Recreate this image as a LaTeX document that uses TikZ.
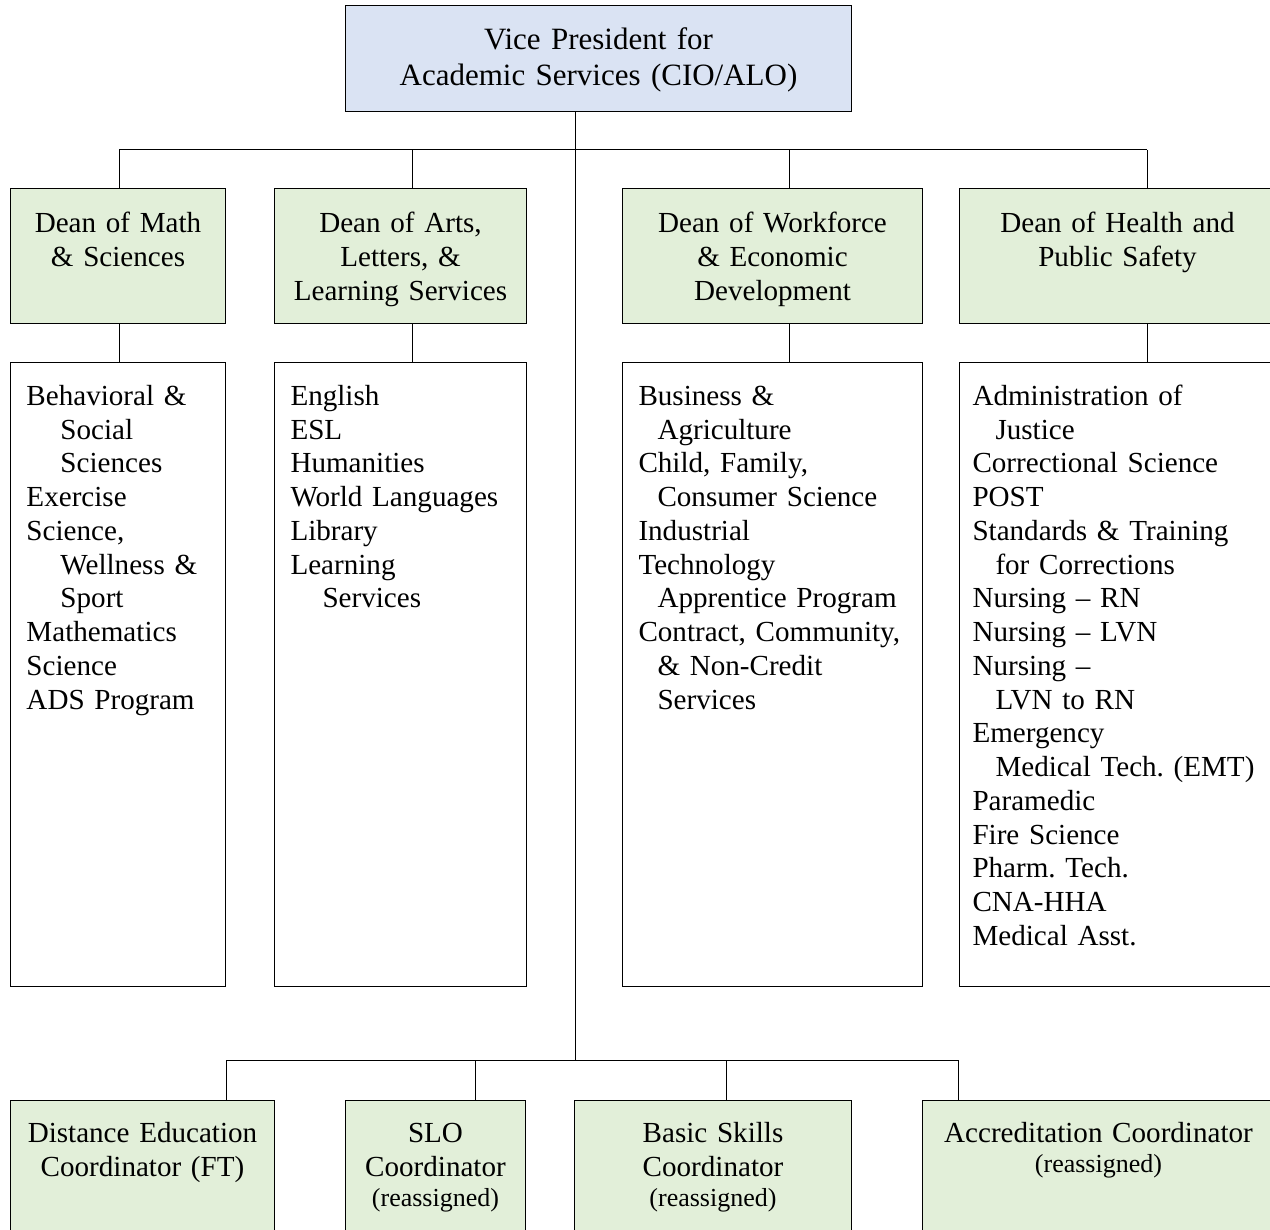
\documentclass[tikz,border=0pt]{standalone}
\usepackage{fontspec}
\setmainfont{Liberation Serif}
\usepackage{tikz}
\definecolor{vpblue}{HTML}{DAE3F3}
\definecolor{deangreen}{HTML}{E2EFD9}
\hfuzz=200pt
\hbadness=10000
\frenchspacing
\newcommand{\reasg}{{\fontsize{26}{30}\selectfont (reassigned)}}

\begin{document}
\begin{tikzpicture}[x=1pt, y=-1pt, line width=1pt,
    vpbox/.style={draw, fill=vpblue, anchor=north west, inner sep=0pt, align=center,
        text width=506pt, text height=44pt, text depth=62pt, font=\fontsize{31}{36}\selectfont},
    deanbox/.style={draw, fill=deangreen, anchor=north west, inner sep=0pt, align=center,
        text height=44pt, text depth=91pt, font=\fontsize{29.1}{34}\selectfont},
    listbox/.style={draw, fill=white, anchor=north west, inner ysep=0pt, inner xsep=16pt, align=left,
        text height=43pt, text depth=581pt, font=\fontsize{29.1}{33.75}\selectfont},
    coordbox/.style={draw, fill=deangreen, anchor=north west, inner sep=0pt, align=center,
        text height=42pt, text depth=140pt, font=\fontsize{29.1}{34}\selectfont}]
        \useasboundingbox (0,0) rectangle (1270,1230);

        \coordinate (vp) at (345,5);
        \coordinate (dean_m) at (10,188);
        \coordinate (dean_a) at (274,188);
        \coordinate (dean_w) at (622,188);
        \coordinate (dean_h) at (959,188);
        \coordinate (list_m) at (10,362);
        \coordinate (list_a) at (274,362);
        \coordinate (list_w) at (622,362);
        \coordinate (list_h) at (959,362);
        \coordinate (co_de) at (10,1100);
        \coordinate (co_slo) at (345,1100);
        \coordinate (co_bs) at (574,1100);
        \coordinate (co_acc) at (922,1100);

        \coordinate (top_bus) at (575,150);
        \coordinate (low_bus) at (575,1060);
        \coordinate (tap_m) at (119,150);
        \coordinate (tap_a) at (412,150);
        \coordinate (tap_w) at (789,150);
        \coordinate (tap_h) at (1147,150);
        \coordinate (tap_de) at (226,1060);
        \coordinate (tap_slo) at (475,1060);
        \coordinate (tap_bs) at (726,1060);
        \coordinate (tap_acc) at (958,1060);

        \node[vpbox] (VP) at (vp) {Vice President for\\Academic Services (CIO/ALO)};

        \node[deanbox, text width=215pt] (Dean_m) at (dean_m) {Dean of Math\\\& Sciences};
        \node[deanbox, text width=252pt] (Dean_a) at (dean_a) {Dean of Arts,\\Letters, \&\\Learning Services};
        \node[deanbox, text width=300pt] (Dean_w) at (dean_w) {Dean of Workforce\\\& Economic\\Development};
        \node[deanbox, text width=316pt] (Dean_h) at (dean_h) {Dean of Health and\\Public Safety};

        \node[listbox, text width=183pt] (List_m) at (list_m) {Behavioral \&\\\hspace*{34pt}Social\\\hspace*{34pt}Sciences\\Exercise\\Science,\\\hspace*{34pt}Wellness \&\\\hspace*{34pt}Sport\\Mathematics\\Science\\ADS Program};
        \node[listbox, text width=220pt] (List_a) at (list_a) {English\\ESL\\Humanities\\World Languages\\Library\\Learning\\\hspace*{32pt}Services};
        \node[listbox, text width=268pt] (List_w) at (list_w) {Business \&\\\hspace*{19pt}Agriculture\\Child, Family,\\\hspace*{19pt}Consumer Science\\Industrial\\Technology\\\hspace*{19pt}Apprentice Program\\Contract, Community,\\\hspace*{19pt}\& Non-Credit\\\hspace*{19pt}Services};
        \node[listbox, inner xsep=13pt, text width=290pt] (List_h) at (list_h) {Administration of\\\hspace*{23pt}Justice\\Correctional Science\\POST\\Standards \& Training\\\hspace*{23pt}for Corrections\\Nursing -- RN\\Nursing -- LVN\\Nursing --\\\hspace*{23pt}LVN to RN\\Emergency\\\hspace*{23pt}Medical Tech. (EMT)\\Paramedic\\Fire Science\\Pharm. Tech.\\CNA-HHA\\Medical Asst.};

        \node[coordbox, text width=264pt] (Co_de) at (co_de) {Distance Education\\Coordinator (FT)};
        \node[coordbox, text width=180pt] (Co_slo) at (co_slo) {SLO\\Coordinator\\[-4pt]\reasg};
        \node[coordbox, text width=277pt] (Co_bs) at (co_bs) {Basic Skills\\Coordinator\\[-4pt]\reasg};
        \node[coordbox, text width=352pt] (Co_acc) at (co_acc) {Accreditation Coordinator\\[-4pt]\reasg};

        \path[draw] (VP.south -| top_bus) -- (low_bus);
        \path[draw] (tap_m) -- (tap_h);
        \path[draw] (tap_m) -- (tap_m |- Dean_m.north);
        \path[draw] (tap_a) -- (tap_a |- Dean_a.north);
        \path[draw] (tap_w) -- (tap_w |- Dean_w.north);
        \path[draw] (tap_h) -- (tap_h |- Dean_h.north);
        \path[draw] (tap_m |- Dean_m.south) -- (tap_m |- List_m.north);
        \path[draw] (tap_a |- Dean_a.south) -- (tap_a |- List_a.north);
        \path[draw] (tap_w |- Dean_w.south) -- (tap_w |- List_w.north);
        \path[draw] (tap_h |- Dean_h.south) -- (tap_h |- List_h.north);
        \path[draw] (tap_de) -- (tap_acc);
        \path[draw] (tap_de) -- (tap_de |- Co_de.north);
        \path[draw] (tap_slo) -- (tap_slo |- Co_slo.north);
        \path[draw] (tap_bs) -- (tap_bs |- Co_bs.north);
        \path[draw] (tap_acc) -- (tap_acc |- Co_acc.north);
    \end{tikzpicture}
\end{document}
